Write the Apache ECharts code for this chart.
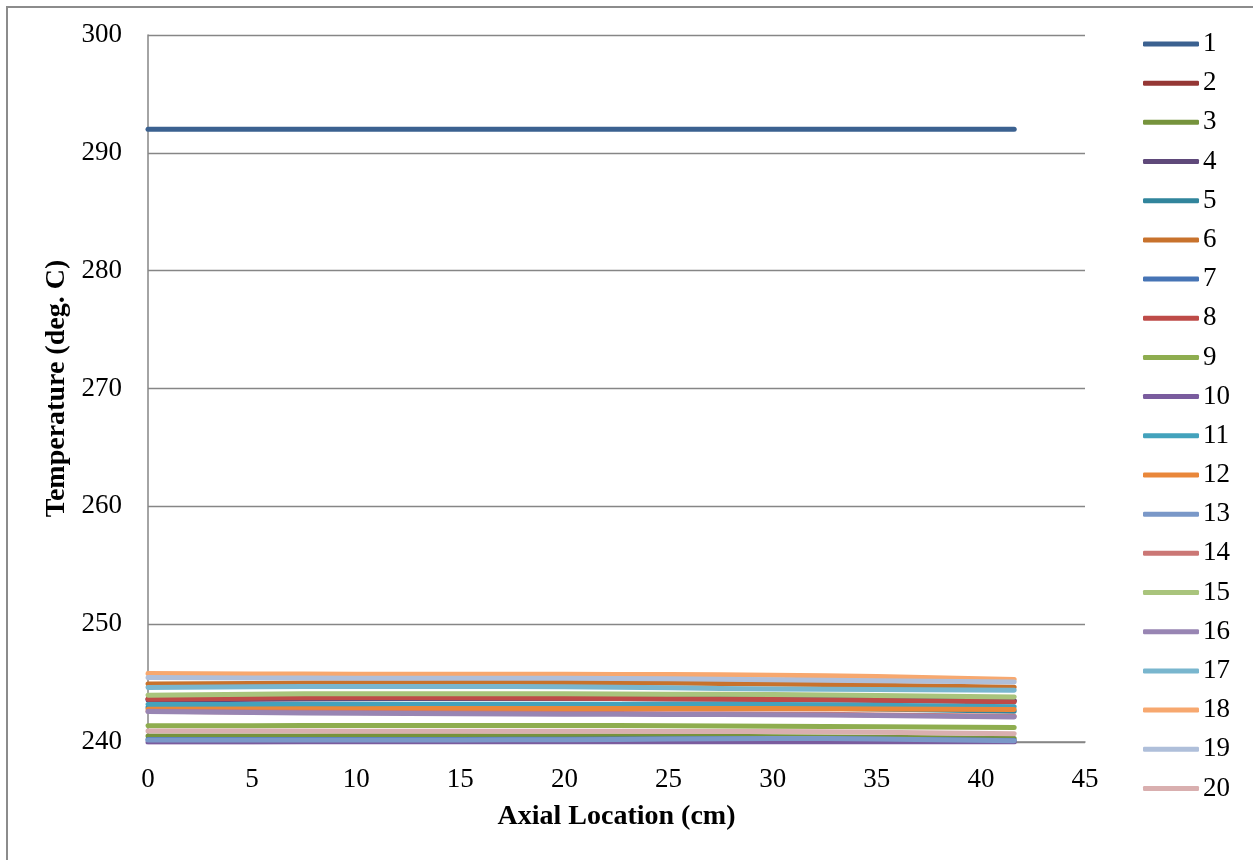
<!DOCTYPE html>
<html>
<head>
<meta charset="utf-8">
<script src="https://cdn.jsdelivr.net/npm/echarts@6/dist/echarts.min.js"></script>
<style>
  html, body { margin: 0; padding: 0; background: #fff; }
  #chart { position: absolute; left: 0; top: 0; width: 1253px; height: 860px; }
  #frame { position: absolute; left: 6px; top: 6px; width: 1260px; height: 870px;
           border-left: 2px solid #8c8c8c; border-top: 2px solid #8c8c8c; pointer-events: none; }
</style>
</head>
<body>
<div id="chart"></div>
<div id="frame"></div>
<script>
// Axial locations (cm)
const xPoints = [0, 5, 10, 15, 20, 25, 30, 35, 41.6];
const seriesNames = ['1','2','3','4','5','6','7','8','9','10','11','12','13','14','15','16','17','18','19','20'];
const s1  = [292, 292, 292, 292, 292, 292, 292, 292, 292];
const s2  = [243.65, 243.68, 243.7, 243.7, 243.7, 243.68, 243.65, 243.6, 243.5];
const s3  = [240.5, 240.5, 240.52, 240.52, 240.5, 240.5, 240.45, 240.4, 240.3];
const s4  = [243.55, 243.62, 243.68, 243.7, 243.7, 243.68, 243.64, 243.58, 243.48];
const s5  = [242.95, 242.95, 243.0, 243.0, 243.0, 242.95, 242.9, 242.8, 242.6];
const s6  = [244.92, 244.97, 245.02, 245.04, 245.04, 245.0, 244.92, 244.82, 244.65];
const s7  = [240.22, 240.22, 240.22, 240.22, 240.24, 240.26, 240.28, 240.24, 240.12];
const s8  = [243.62, 243.72, 243.78, 243.76, 243.72, 243.66, 243.6, 243.52, 243.4];
const s9  = [241.37, 241.38, 241.4, 241.4, 241.4, 241.38, 241.34, 241.3, 241.22];
const s10 = [239.98, 239.98, 240.0, 240.0, 240.0, 240.0, 240.0, 240.0, 240.0];
const s11 = [243.18, 243.19, 243.2, 243.2, 243.2, 243.2, 243.18, 243.12, 243.0];
const s12 = [242.78, 242.8, 242.83, 242.84, 242.84, 242.84, 242.84, 242.8, 242.75];
const s13 = [240.18, 240.18, 240.18, 240.18, 240.2, 240.25, 240.3, 240.25, 240.1];
const s14 = [242.62, 242.55, 242.5, 242.46, 242.42, 242.4, 242.38, 242.3, 242.18];
const s15 = [243.97, 244.05, 244.1, 244.1, 244.09, 244.06, 244.03, 243.95, 243.82];
const s16 = [242.58, 242.5, 242.44, 242.4, 242.36, 242.34, 242.32, 242.25, 242.12];
const s17 = [244.63, 244.68, 244.72, 244.72, 244.69, 244.6, 244.5, 244.45, 244.4];
const s18 = [245.82, 245.78, 245.75, 245.74, 245.74, 245.72, 245.67, 245.55, 245.3];
const s19 = [245.48, 245.44, 245.41, 245.4, 245.4, 245.36, 245.28, 245.2, 245.1];
const s20 = [240.94, 240.93, 240.92, 240.92, 240.92, 240.9, 240.89, 240.82, 240.7];
const allSeries = [s1,s2,s3,s4,s5,s6,s7,s8,s9,s10,s11,s12,s13,s14,s15,s16,s17,s18,s19,s20];
const colors = ['#3B6190','#953735','#76933C','#5F497A','#31859C','#C8722C','#4674B5','#BE4B48',
                '#8EAD4F','#7A5C9E','#43A2BC','#E9873A','#7A98C8','#CB7775','#A9C47C','#9885B3',
                '#79B6CE','#F7A86F','#AFBFDA','#D9AFAF'];
const xTicks = { min: 0, max: 45, interval: 5 };
const yTicks = { min: 240, max: 300, interval: 10 };

const font = '"Liberation Serif", "DejaVu Serif", serif';
const chart = echarts.init(document.getElementById('chart'), null, { renderer: 'canvas' });
chart.setOption({
  animation: false,
  color: colors,
  grid: { left: 148, right: 168, top: 35, bottom: 118, containLabel: false },
  legend: {
    orient: 'vertical', left: 1143, top: 30.5, padding: 0,
    itemWidth: 56, itemHeight: 5, itemGap: 12.18,
    icon: 'roundRect',
    textStyle: { fontFamily: font, fontSize: 27, color: '#000', lineHeight: 27, padding: [0,0,0,-1] },
    data: seriesNames
  },
  xAxis: {
    type: 'value', min: xTicks.min, max: xTicks.max, interval: xTicks.interval,
    name: 'Axial Location (cm)', nameLocation: 'middle', nameGap: 61,
    nameTextStyle: { fontFamily: font, fontSize: 28, fontWeight: 'bold', color: '#000' },
    axisLine: { show: true, onZero: false, lineStyle: { color: '#868686', width: 1.5 } },
    axisTick: { show: false },
    splitLine: { show: false },
    axisLabel: { fontFamily: font, fontSize: 27, color: '#000', margin: 24 }
  },
  yAxis: {
    type: 'value', min: yTicks.min, max: yTicks.max, interval: yTicks.interval,
    name: 'Temperature (deg. C)', nameLocation: 'middle', nameGap: 77,
    nameTextStyle: { fontFamily: font, fontSize: 28, fontWeight: 'bold', color: '#000' },
    axisLine: { show: true, lineStyle: { color: '#868686', width: 1.5 } },
    axisTick: { show: false },
    splitLine: { show: true, lineStyle: { color: '#868686', width: 1.3 } },
    axisLabel: { fontFamily: font, fontSize: 27, color: '#000', margin: 26 }
  },
  series: allSeries.map((vals, i) => ({
    name: seriesNames[i],
    type: 'line',
    smooth: true,
    symbol: 'none',
    lineStyle: { width: 5, cap: 'round', join: 'round' },
    data: xPoints.map((x, j) => [x, vals[j]])
  }))
});
</script>
</body>
</html>
